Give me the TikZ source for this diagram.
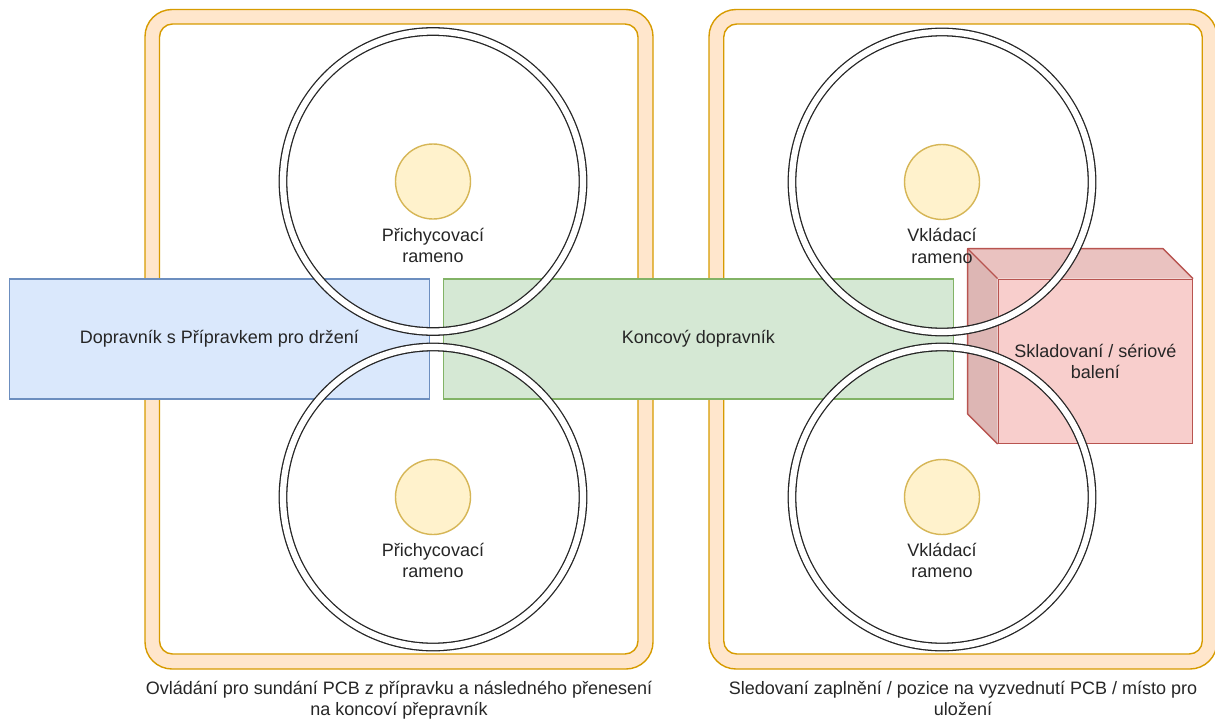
\documentclass[tikz,border=0pt]{standalone}
\usepackage{fontspec}
\setmainfont{Liberation Sans}
\definecolor{txt}{HTML}{262626}
\definecolor{frameline}{HTML}{D79B00}
\definecolor{framefill}{HTML}{FFE6CC}
\definecolor{hubline}{HTML}{D6B656}
\definecolor{hubfill}{HTML}{FFF2CC}
\definecolor{blueline}{HTML}{6C8EBF}
\definecolor{bluefill}{HTML}{DAE8FC}
\definecolor{greenline}{HTML}{82B366}
\definecolor{greenfill}{HTML}{D5E8D4}
\definecolor{redline}{HTML}{B85450}
\definecolor{redfill}{HTML}{F8CECC}
\definecolor{redtop}{HTML}{EAC2C0}
\definecolor{redside}{HTML}{DDB6B4}
\begin{document}
\begin{tikzpicture}[x=1pt,y=-1pt,
  lbl/.style={font=\fontsize{18}{21.6}\selectfont, text=txt, align=center, inner sep=0pt},
  frameout/.style={draw=frameline, fill=framefill, line width=1.4pt, rounded corners=27pt,
    minimum width=508pt, minimum height=659.5pt, inner sep=0pt},
  framein/.style={draw=frameline, fill=white, line width=1.4pt, rounded corners=13pt,
    minimum width=478.5pt, minimum height=630pt, inner sep=0pt},
  ring/.style={circle, draw=black!85, line width=1.3pt, double=white, double distance=6.2pt,
    minimum size=300pt, inner sep=0pt},
  hub/.style={circle, draw=hubline, fill=hubfill, line width=1.4pt, minimum size=75pt, inner sep=0pt},
  belt/.style={rectangle, line width=1.4pt, minimum height=120pt, inner sep=0pt,
    font=\fontsize{18}{21.6}\selectfont, text=txt},
  face/.style={draw=redline, line width=1.4pt, line join=round}]

\useasboundingbox (0,0) rectangle (1215,720);

% two work cells
\node[frameout] (cellA) at (399,339.25) {};
\node[framein]  (cellAin) at (398.75,339) {};
\node[frameout] (cellB) at (963,339.25) {};
\node[framein]  (cellBin) at (963,339) {};

% conveyors
\node[belt, draw=blueline, fill=bluefill, minimum width=419.8pt] (feed) at (219.4,339)
  {Dopravník s Přípravkem pro držení};
\node[belt, draw=greenline, fill=greenfill, minimum width=510pt] (outbelt) at (698.3,339)
  {Koncový dopravník};

% storage box (front face plus top and side faces)
\node[rectangle, draw=redline, fill=redfill, line width=1.4pt, minimum width=194pt,
  minimum height=164pt, inner sep=0pt] (store) at (1095.3,361.3) {};
\fill[redtop] (store.north west) -- ++(-30,-30) -- ([shift={(-30,-30)}]store.north east)
  -- (store.north east) -- cycle;
\fill[redside] (store.north west) -- ++(-30,-30) -- ([shift={(-30,-30)}]store.south west)
  -- (store.south west) -- cycle;
\draw[face] ([shift={(-30,-30)}]store.south west) -- ([shift={(-30,-30)}]store.north west)
  -- ([shift={(-30,-30)}]store.north east) -- (store.north east);
\draw[face] (store.north west) -- ++(-30,-30);
\draw[face] (store.south west) -- ++(-30,-30);
\node[lbl] (storetext) at (store.center) {Skladovaní / sériové\\balení};

% arm reach circles
\node[ring] (reachA1) at (433,181.5) {};
\node[ring] (reachA2) at (433,497) {};
\node[ring] (reachB1) at (942,182) {};
\node[ring] (reachB2) at (942,497) {};

% arm bases with labels (base anchor sits on the last line)
\node[hub] (armA1) at (433,181.5) {};
\node[hub] (armA2) at (433,497) {};
\node[hub] (armB1) at (942,182) {};
\node[hub] (armB2) at (942,497) {};
\node[lbl, anchor=base] (armA1t) at ([yshift=-81.1pt]armA1.center) {Přichycovací\\rameno};
\node[lbl, anchor=base] (armA2t) at ([yshift=-80.6pt]armA2.center) {Přichycovací\\rameno};
\node[lbl, anchor=base] (armB1t) at ([yshift=-81.1pt]armB1.center) {Vkládací\\rameno};
\node[lbl, anchor=base] (armB2t) at ([yshift=-80.6pt]armB2.center) {Vkládací\\rameno};

% cell captions
\node[lbl, anchor=base] (capA) at (399,715.9)
  {Ovládání pro sundání PCB z přípravku a následného přenesení\\na koncoví přepravník};
\node[lbl, anchor=base] (capB) at (963,715.9)
  {Sledovaní zaplnění / pozice na vyzvednutí PCB / místo pro\\uložení};
\end{tikzpicture}
\end{document}
